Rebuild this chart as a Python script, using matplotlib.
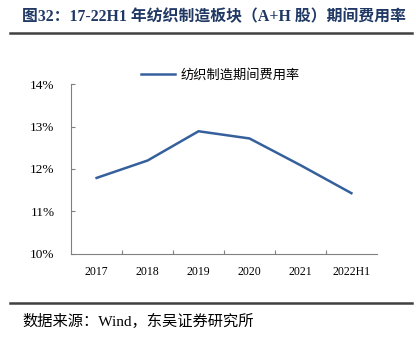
import matplotlib
matplotlib.use("Agg")
import matplotlib.pyplot as plt
from matplotlib.lines import Line2D
from matplotlib.ticker import FuncFormatter

plt.rcParams['font.family'] = ['Liberation Serif', 'Noto Sans CJK SC', 'DejaVu Sans']

# 纺织制造板块期间费用率 (%)
years = ['2017', '2018', '2019', '2020', '2021', '2022H1']
expense_ratio = [11.79, 12.20, 12.89, 12.72, 12.09, 11.43]

title = '图32：17-22H1 年纺织制造板块（A+H 股）期间费用率'
series_name = '纺织制造期间费用率'
source = '数据来源：Wind，东吴证券研究所'

navy = '#1F3864'
blue = '#35609C'
grey = '#808080'

fig = plt.figure(figsize=(4.16, 3.38), dpi=100)
ax = fig.add_axes([0.171, 0.249, 0.735, 0.502])

x = list(range(len(years)))
ax.plot(x, expense_ratio, color=blue, lw=1.8, solid_joinstyle='miter')

ax.set_xlim(-0.5, len(years) - 0.5)
ax.set_ylim(10, 14)
ax.set_yticks([10, 11, 12, 13, 14])
ax.yaxis.set_major_formatter(FuncFormatter(lambda v, p: '%d%%' % v))
# ticks between categories, labels centred on them
ax.set_xticks([i - 0.5 for i in range(1, len(years))], minor=False)
ax.set_xticklabels([])
ax.set_xticks(x, minor=True)
ax.set_xticklabels(years, minor=True)
ax.tick_params(axis='x', which='minor', length=0, pad=9, labelsize=8.5)
ax.tick_params(axis='x', which='major', length=3, color=grey, direction='in')
ax.tick_params(axis='y', length=3, color=grey, direction='in', labelsize=9.5, pad=12)

for s in ['top', 'right']:
    ax.spines[s].set_visible(False)
for s in ['left', 'bottom']:
    ax.spines[s].set_color(grey)
    ax.spines[s].set_linewidth(0.8)

handle = Line2D([], [], color=blue, lw=1.8)
leg = ax.legend([handle], [series_name], loc='center', bbox_to_anchor=(0.487, 1.053),
                frameon=False, handlelength=2.6, handletextpad=0.4,
                prop={'family': ['Noto Sans CJK SC'], 'size': 9.5})

fig.text(0.053, 0.948, title, color=navy, fontsize=11.4, fontweight='bold',
         ha='left', va='center', family=['Liberation Serif', 'Noto Sans CJK SC'])
fig.add_artist(Line2D([0.024, 0.99], [0.902, 0.902], color='#404040', lw=1.8))
fig.add_artist(Line2D([0.024, 0.99], [0.103, 0.103], color='#404040', lw=1.8))
fig.text(0.053, 0.05, source, fontsize=11, ha='left', va='center',
         family=['Liberation Serif', 'Noto Sans CJK SC'])

fig.savefig('out.png', dpi=100)
